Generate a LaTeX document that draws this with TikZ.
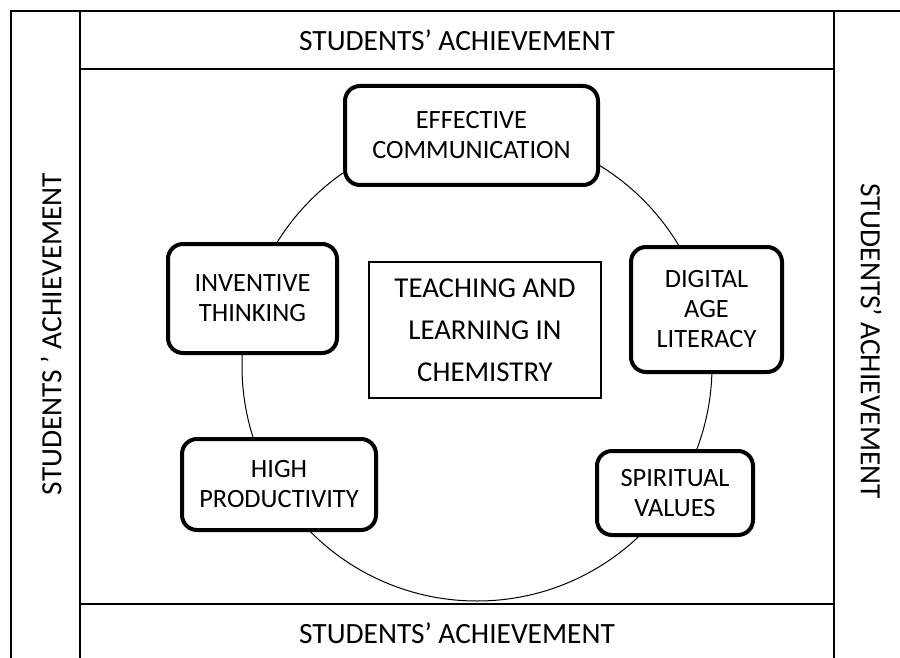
\documentclass[tikz,border=0pt]{standalone}
\usepackage{fontspec}
\setmainfont{Carlito}
\tikzstyle{skill}=[draw,line width=2pt,rounded corners=7.5pt,fill=white,align=center,inner sep=0pt,font=\fontsize{13.2}{15}\selectfont]
\tikzstyle{core}=[draw,line width=.6pt,fill=white,align=center,inner sep=0pt,font=\fontsize{14.4}{21}\selectfont]
\tikzstyle{rim}=[inner sep=0pt,font=\fontsize{14.7}{15}\selectfont]
\tikzstyle{frame}=[line width=.8pt]

\begin{document}
\begin{tikzpicture}[x=.5pt,y=-.5pt]
	\useasboundingbox (0,0) rectangle (900,658);
	% frame
	\draw[frame] (11,658) -- (11,11) -- (900,11);
	\draw[frame] (80,658) -- (80,11) (834,658) -- (834,11);
	\draw[frame] (80,69) -- (834,69) (80,604) -- (834,604);
	\node[rim] (top) at (457,40) {STUDENTS’ ACHIEVEMENT};
	\node[rim] (bot) at (457,633) {STUDENTS’ ACHIEVEMENT};
	\node[rim,rotate=90] (left) at (51,334) {STUDENTS ’ ACHIEVEMENT};
	\node[rim,rotate=-90] (right) at (871,341) {STUDENTS’ ACHIEVEMENT};
	% ring and skills
	\node[draw,circle,line width=.5pt,minimum size=235pt,inner sep=0pt] (ring) at (477,366) {};
	\node[skill,minimum width=126.5pt,minimum height=49.5pt] (comm) at (471.5,135.5) {EFFECTIVE\\COMMUNICATION};
	\node[skill,minimum width=84.5pt,minimum height=54.5pt] (invent) at (252.5,298.5) {INVENTIVE\\THINKING};
	\node[skill,minimum width=75.5pt,minimum height=62.5pt] (digital) at (706.5,309.5) {DIGITAL\\AGE\\LITERACY};
	\node[skill,minimum width=97pt,minimum height=45.5pt] (prod) at (279,484.5) {HIGH\\PRODUCTIVITY};
	\node[skill,minimum width=78pt,minimum height=42pt] (spirit) at (675,493) {SPIRITUAL\\VALUES};
	\node[core,minimum width=116pt,minimum height=68pt] (chem) at (485,330) {TEACHING AND\\LEARNING IN\\CHEMISTRY};
\end{tikzpicture}
\end{document}
